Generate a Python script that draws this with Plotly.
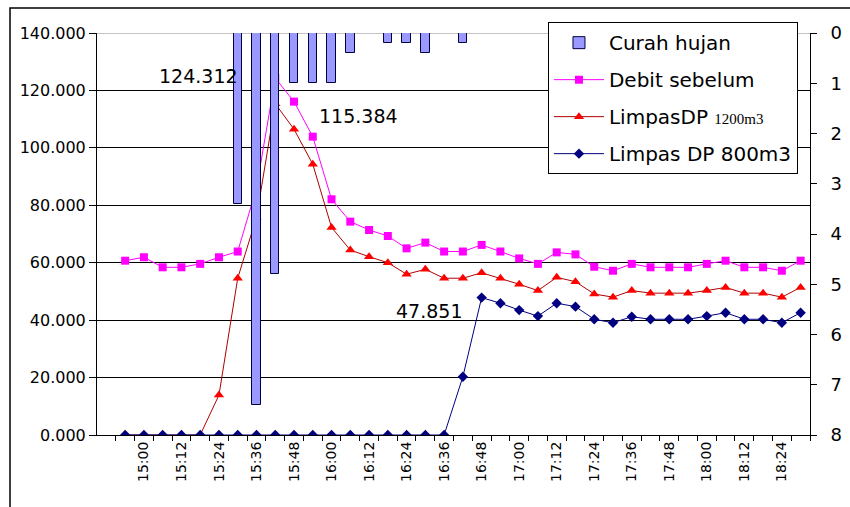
import plotly.graph_objects as go

# Time categories (6 minute steps)
times = ["14:54", "15:00", "15:06", "15:12", "15:18", "15:24", "15:30", "15:36",
         "15:42", "15:48", "15:54", "16:00", "16:06", "16:12", "16:18", "16:24",
         "16:30", "16:36", "16:42", "16:48", "16:54", "17:00", "17:06", "17:12",
         "17:18", "17:24", "17:30", "17:36", "17:42", "17:48", "17:54", "18:00",
         "18:06", "18:12", "18:18", "18:24", "18:30"]

# Rainfall (right axis, reversed)
curah_hujan = [None, None, None, None, None, None, 3.4, 7.4, 4.8, 1.0, 1.0, 1.0,
               0.4, None, 0.2, 0.2, 0.4, None, 0.2, None, None, None, None, None,
               None, None, None, None, None, None, None, None, None, None, None,
               None, None]

debit_sebelum = [60.7, 61.9, 58.4, 58.4, 59.6, 61.9, 63.9, 86.0, 124.312, 116.1,
                 103.9, 82.1, 74.3, 71.4, 69.3, 65.0, 67.0, 63.9, 63.9, 66.2, 63.9,
                 61.5, 59.6, 63.6, 62.9, 58.6, 57.2, 59.6, 58.4, 58.4, 58.4, 59.6,
                 60.7, 58.4, 58.4, 57.2, 60.7]

limpas_1200 = [0, 0, 0, 0, 0, 13.9, 54.6, 75.8, 115.384, 106.5, 94.3, 72.3, 64.4,
               62.1, 60.0, 56.0, 57.7, 54.6, 54.6, 56.5, 54.6, 52.5, 50.3, 54.9,
               53.4, 49.1, 48.0, 50.3, 49.4, 49.4, 49.4, 50.3, 51.4, 49.4, 49.4,
               48.0, 51.4]

limpas_800 = [0, 0, 0, 0, 0, 0, 0, 0, 0, 0, 0, 0, 0, 0, 0, 0, 0, 0, 20.3, 47.851,
              45.9, 43.5, 41.4, 45.9, 44.7, 40.3, 39.1, 41.2, 40.3, 40.3, 40.3,
              41.4, 42.6, 40.3, 40.3, 39.1, 42.6]

tick_text = [t if i % 2 == 1 else "" for i, t in enumerate(times)]

FONT = "DejaVu Sans"

fig = go.Figure()

fig.add_trace(go.Bar(
    x=times, y=curah_hujan, name="Curah hujan", yaxis="y2",
    marker=dict(color="#9999FF", line=dict(color="#000040", width=1)),
    width=0.45, legendgroup="a"
))

fig.add_trace(go.Scatter(
    x=times, y=debit_sebelum, name="Debit sebelum", mode="lines+markers",
    line=dict(color="#FF00FF", width=1),
    marker=dict(symbol="square", size=8, color="#FF00FF"),
    legendgroup="b"
))

fig.add_trace(go.Scatter(
    x=times, y=limpas_1200,
    name='LimpasDP <span style="font-family:Liberation Serif;font-size:15px">1200m3</span>',
    mode="lines+markers",
    line=dict(color="#B00000", width=1),
    marker=dict(symbol="triangle-up", size=9, color="#FF0000"),
    legendgroup="c"
))

fig.add_trace(go.Scatter(
    x=times, y=limpas_800, name="Limpas DP 800m3", mode="lines+markers",
    line=dict(color="#000080", width=1),
    marker=dict(symbol="diamond", size=8, color="#000080"),
    legendgroup="d"
))

# Data labels on the peaks
def peak_label(series, xanchor, xshift, yshift):
    i = series.index(max(series))
    fig.add_annotation(
        x=times[i], y=series[i], text=f"{series[i]:.3f}", showarrow=False,
        xanchor=xanchor, xshift=xshift, yshift=yshift,
        font=dict(family=FONT, size=19, color="#000000")
    )

peak_label(debit_sebelum, "right", -35, 2)
peak_label(limpas_1200, "left", 42, -12)
peak_label(limpas_800, "right", -18, -13)

# Outer chart border and grey top edge of plot area
fig.add_shape(type="rect", xref="paper", yref="paper",
              x0=-0.122, x1=1.06, y0=-0.2, y1=1.062,
              line=dict(color="#000000", width=1.5))
fig.add_shape(type="line", xref="paper", yref="y", x0=0, x1=1, y0=140, y1=140,
              line=dict(color="#8A8A8A", width=1), layer="between")

fig.update_layout(
    width=850, height=507,
    margin=dict(l=97, r=40, t=33, b=72, autoexpand=False),
    paper_bgcolor="white", plot_bgcolor="white",
    font=dict(family=FONT, color="#000000"),
    bargap=0,
    xaxis=dict(
        type="category", range=[-1.5, 36.5],
        tickmode="array", tickvals=times, ticktext=tick_text,
        tickson="boundaries", ticks="outside", ticklen=5, tickcolor="#000000",
        tickangle=-90, tickfont=dict(size=14), automargin=False,
        showline=True, linecolor="#000000", showgrid=False, zeroline=False
    ),
    yaxis=dict(
        range=[0, 140], dtick=20, tickformat=".3f",
        ticks="outside", ticklen=7, tickcolor="#000000",
        tickfont=dict(size=16), automargin=False,
        showline=True, linecolor="#000000",
        showgrid=True, gridcolor="#000000", gridwidth=1, zeroline=False
    ),
    yaxis2=dict(
        overlaying="y", side="right", range=[8, 0], dtick=1,
        ticks="outside", ticklen=6, tickcolor="#000000",
        tickfont=dict(size=18), ticklabelstandoff=10, automargin=False,
        showline=True, linecolor="#000000", showgrid=False, zeroline=False
    ),
    legend=dict(
        x=0.6325, y=1.027, xanchor="left", yanchor="top",
        bgcolor="white", bordercolor="#000000", borderwidth=1,
        font=dict(size=20), tracegroupgap=8, traceorder="grouped",
        itemwidth=50
    ),
    showlegend=True
)

fig.write_html("out.html", config={"displayModeBar": False},
               post_script="document.body.style.margin='0px';document.body.style.overflow='hidden';")
